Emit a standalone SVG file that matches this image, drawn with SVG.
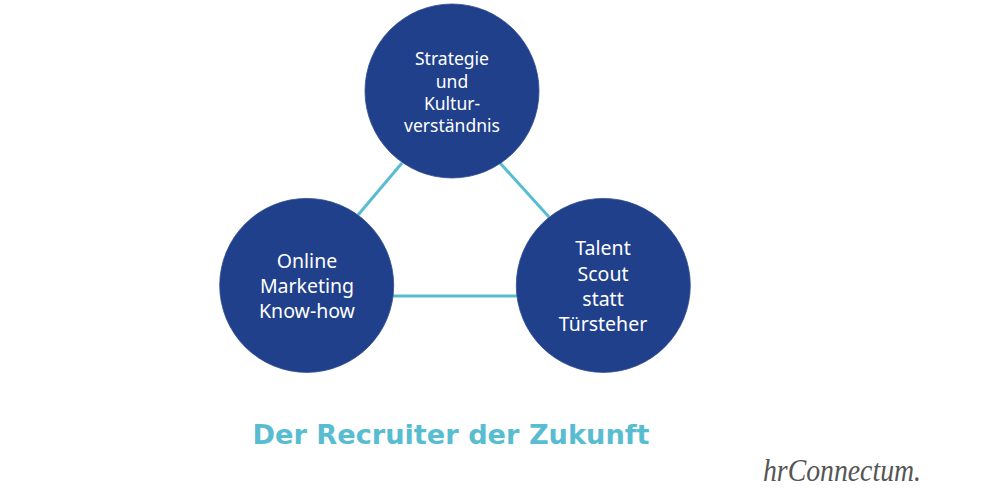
<svg xmlns="http://www.w3.org/2000/svg" width="1000" height="500" viewBox="0 0 1000 500">
<style>
.n{fill:#21408c;stroke:#2f4b8f;stroke-width:.8}
.c{stroke:#58bdd1;stroke-width:3;fill:none}
.a{font-family:"Noto Sans","Open Sans",sans-serif;fill:#fff;text-anchor:middle}
.s{font-size:17.5px}
.l{font-size:19.5px}
.t{font-family:"DejaVu Sans",Verdana,sans-serif;font-weight:700;font-size:27.2px;fill:#58bdd1;text-anchor:middle}
.logo{font-family:"Liberation Serif",serif;font-style:italic;font-size:32px;fill:#555;text-anchor:middle}
</style>
<rect width="1000" height="500" fill="#fff"/>
<g id="connectors">
<path class="c" d="M358 215L402 163"/>
<path class="c" d="M500 163L549 217"/>
<path class="c" d="M393 296H517"/>
</g>
<g id="node-top">
<circle class="n" cx="452" cy="91" r="87"/>
<text class="a s" x="452" y="65">Strategie</text>
<text class="a s" x="452" y="87.5">und</text>
<text class="a s" x="452" y="110">Kultur-</text>
<text class="a s" x="452" y="132">verständnis</text>
</g>
<g id="node-left">
<circle class="n" cx="306.7" cy="285.4" r="87"/>
<text class="a l" x="307" y="267.5">Online</text>
<text class="a l" x="307" y="293">Marketing</text>
<text class="a l" x="307" y="318">Know-how</text>
</g>
<g id="node-right">
<circle class="n" cx="603.3" cy="285.4" r="87"/>
<text class="a l" x="603" y="255">Talent</text>
<text class="a l" x="603" y="281">Scout</text>
<text class="a l" x="603" y="306">statt</text>
<text class="a l" x="603" y="331">Türsteher</text>
</g>
<text class="t" x="451" y="444">Der Recruiter der Zukunft</text>
<text class="logo" x="842" y="481" textLength="158" lengthAdjust="spacingAndGlyphs">hrConnectum.</text>
</svg>
